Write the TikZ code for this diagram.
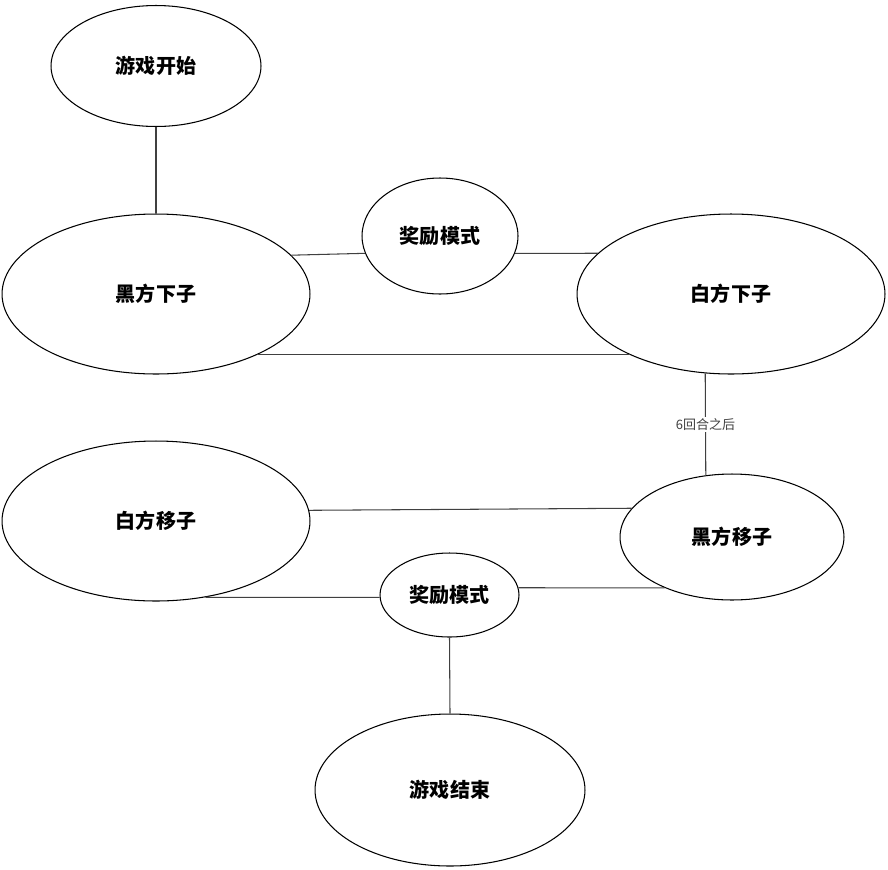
\documentclass[tikz,border=0pt]{standalone}
\usepackage{fontspec}
\setmainfont{Liberation Sans}
\newfontfamily\cjk{Noto Sans CJK SC}
\usetikzlibrary{shapes.geometric}

\begin{document}
\begin{tikzpicture}[x=0.02cm, y=-0.02cm]
    \tikzstyle{state} = [ellipse, draw=black, line width=0.6pt, inner sep=0pt, font=\cjk\bfseries\fontsize{11.4}{13}\selectfont]
    \tikzstyle{link} = [line width=0.6pt, color=black!75]
    \tikzstyle{note} = [fill=white, inner sep=1pt, font=\cjk\fontsize{7.4}{9}\selectfont]

    \useasboundingbox (0,0) rectangle (888,869);

    \node (start) [state, minimum width=4.2cm, minimum height=2.42cm] at (156,66) {游戏开始};
    \node (heiput) [state, minimum width=6.16cm, minimum height=3.2cm] at (156,294) {黑方下子};
    \node (bonus1) [state, minimum width=3.12cm, minimum height=2.32cm] at (440,236) {奖励模式};
    \node (baiput) [state, minimum width=6.16cm, minimum height=3.2cm] at (731,294) {白方下子};
    \node (baimove) [state, minimum width=6.16cm, minimum height=3.2cm] at (156,521) {白方移子};
    \node (heimove) [state, minimum width=4.48cm, minimum height=2.52cm] at (732,537) {黑方移子};
    \node (bonus2) [state, minimum width=2.78cm, minimum height=1.68cm] at (449.5,595) {奖励模式};
    \node (finish) [state, minimum width=5.4cm, minimum height=3.04cm] at (450,790) {游戏结束};

    \draw [link] (start.south) -- (heiput.north);
    \draw [link] (heiput.16.7) -- (bonus1.193.7);
    \draw [link] (bonus1.-13.7) -- (baiput.163.3);
    \draw [link] (heiput.-31.5) -- (baiput.211.5);
    \draw [link] (baiput.252.4) -- node (after6) [note] {6回合之后} (heimove.113);
    \draw [link] (baimove.4.5) -- (heimove.164.4);
    \draw [link] (baimove.-57.7) -- (bonus2.182);
    \draw [link] (bonus2.6.1) -- (heimove.217.8);
    \draw [link] (bonus2.south) -- (finish.north);
\end{tikzpicture}
\end{document}
